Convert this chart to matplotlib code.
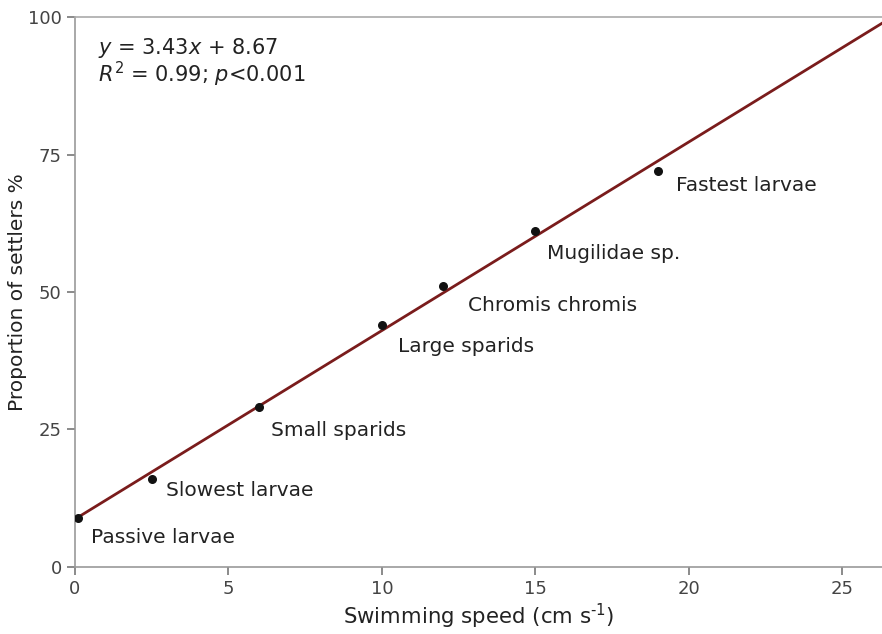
import numpy as np
import matplotlib
matplotlib.use('Agg')
import matplotlib.pyplot as plt

# ------------------------ data

labels = ['Passive larvae', 'Slowest larvae', 'Small sparids', 'Large sparids',
          'Chromis chromis', 'Mugilidae sp.', 'Fastest larvae']
speed = [0.1, 2.5, 6.0, 10.0, 12.0, 15.0, 19.0]
settlers = [8.8, 16.0, 29.0, 44.0, 51.0, 61.0, 72.0]
slope, intercept = 3.43, 8.67

# label offsets in pixels (style, not data)
offsets = [(13, -19), (14, -12), (12, -23), (16, -22), (25, -19), (12, -22), (18, -14)]

# ------------------------

plt.rcParams['font.family'] = ['DejaVu Sans']
plt.rcParams['mathtext.fontset'] = 'dejavusans'

fig = plt.figure(figsize=(8.82, 6.34), dpi=100)
ax = fig.add_axes([0.085, 0.106, 0.915, 0.867])

xmax = 26.3
xs = np.array([0, xmax])
ax.plot(xs, slope * xs + intercept, color='#7a1c1c', lw=2, zorder=2)
ax.scatter(speed, settlers, s=30, color='#111111', zorder=3)

for lab, x, y, off in zip(labels, speed, settlers, offsets):
    ax.annotate(lab, (x, y), xytext=off, textcoords='offset pixels',
                ha='left', va='center', fontsize=14.5, color='#222222')

ax.text(0.029, 0.965, '$y$ = 3.43$x$ + 8.67\n$R^{2}$ = 0.99; $p$<0.001',
        transform=ax.transAxes, ha='left', va='top', fontsize=15,
        color='#222222', linespacing=0.98)

ax.set_xlim(0, xmax)
ax.set_ylim(0, 100)
ax.set_xticks([0, 5, 10, 15, 20, 25])
ax.set_yticks([0, 25, 50, 75, 100])
ax.set_xlabel('Swimming speed (cm s$^{\\text{-}1}$)', fontsize=15.3, color='#222222', labelpad=3)
ax.set_ylabel('Proportion of settlers %', fontsize=14.5, color='#222222', labelpad=1)

ax.spines['right'].set_visible(False)
for sp in ax.spines.values():
    sp.set_color('#999999')
    sp.set_linewidth(1.2)
ax.spines['top'].set_color('#aaaaaa')
ax.tick_params(direction='out', length=6, width=1.2, color='#777777',
               labelsize=13, labelcolor='#444444')

fig.savefig('out.png', dpi=100)
